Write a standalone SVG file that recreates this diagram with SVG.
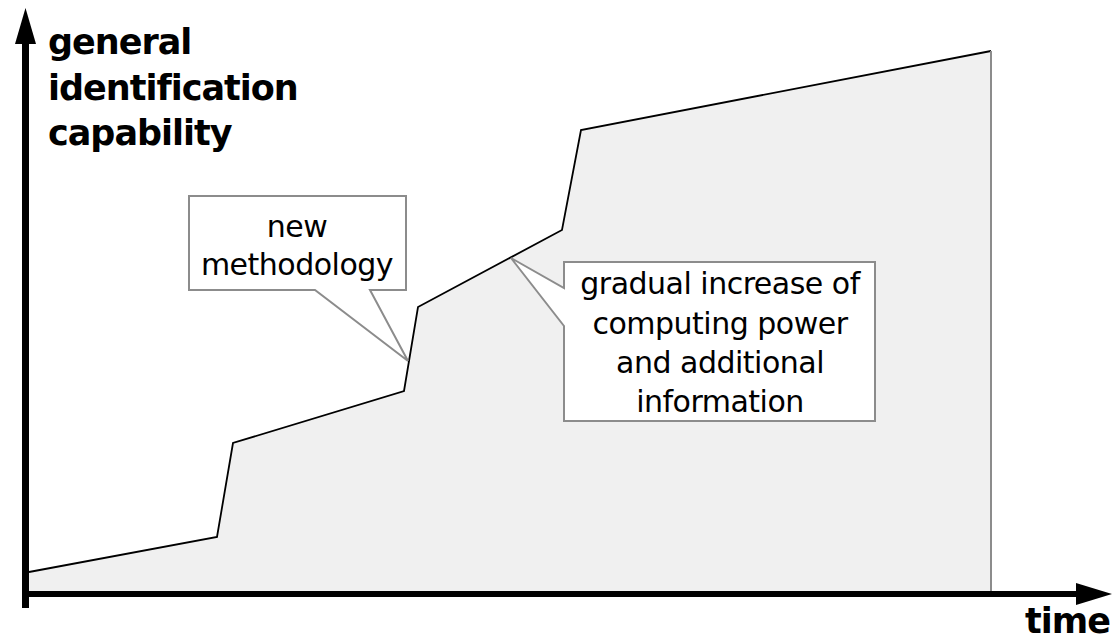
<svg xmlns="http://www.w3.org/2000/svg" width="1119" height="640" viewBox="0 0 1119 640">
<style>
.axislbl{font-family:"DejaVu Sans",Verdana,sans-serif;font-weight:bold;font-size:35px;letter-spacing:-1px;fill:#000}
.lbl{font-family:"DejaVu Sans",Verdana,sans-serif;font-size:30px;letter-spacing:-0.5px;fill:#000}
.call{fill:#fff;stroke:#8c8c8c;stroke-width:2}
</style>
<rect width="1119" height="640" fill="#fff"/>
<g id="area">
<polygon points="29,572 217,537 233,443 404,391 418,307 562,230 581,130 991,51 991,591 29,591" fill="#f0f0f0" stroke="none"/>
<polyline points="29,572 217,537 233,443 404,391 418,307 562,230 581,130 991,51" fill="none" stroke="#000" stroke-width="1.8" stroke-linejoin="miter"/>
<line x1="991" y1="51" x2="991" y2="591" stroke="#8c8c8c" stroke-width="2"/>
</g>
<g id="axes">
<line x1="25.5" y1="40" x2="25.5" y2="608" stroke="#000" stroke-width="7"/>
<polygon points="25.5,8 15,44 36,44" fill="#000"/>
<line x1="22" y1="594" x2="1080" y2="594" stroke="#000" stroke-width="6"/>
<polygon points="1112,594 1076,583 1076,605" fill="#000"/>
</g>
<g id="ylabel">
<text class="axislbl" x="48" y="54">general</text>
<text class="axislbl" x="48" y="100">identification</text>
<text class="axislbl" x="48" y="145">capability</text>
</g>
<g id="xlabel">
<text class="axislbl" x="1110" y="633" text-anchor="end">time</text>
</g>
<g id="callout-new-methodology">
<path class="call" d="M189,196 H406 V290 H370 L408,361 L315,290 H189 Z"/>
<text class="lbl" x="297" y="237" text-anchor="middle">new</text>
<text class="lbl" x="297" y="275" text-anchor="middle">methodology</text>
</g>
<g id="callout-gradual">
<path class="call" d="M564,262 H875 V421 H564 V326 L511,258 L564,288 Z"/>
<text class="lbl" x="720" y="294" text-anchor="middle">gradual increase of</text>
<text class="lbl" x="720" y="334" text-anchor="middle">computing power</text>
<text class="lbl" x="720" y="373" text-anchor="middle">and additional</text>
<text class="lbl" x="720" y="412" text-anchor="middle">information</text>
</g>
</svg>
